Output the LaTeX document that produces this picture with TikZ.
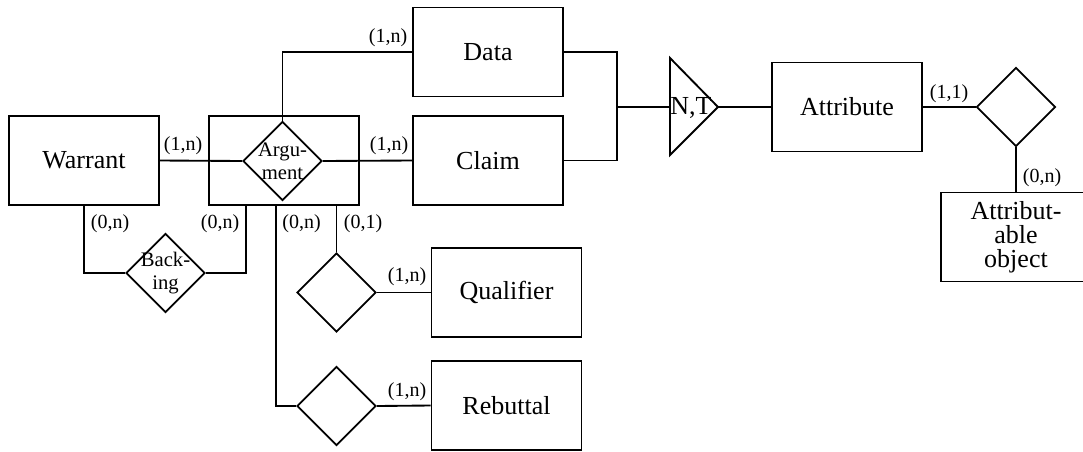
\documentclass[tikz,border=0pt]{standalone}
\usepackage{fontspec}
\setmainfont{Liberation Serif}
\usetikzlibrary{shapes.geometric}
\tikzset{
	entity/.style={draw, minimum width=112.5pt, minimum height=66.75pt, inner sep=0pt, align=center, font=\fontsize{19.5}{18}\selectfont},
	relation/.style={draw, diamond, aspect=1, minimum width=59.25pt, minimum height=59.25pt, inner sep=0pt},
	reltext/.style={inner sep=0pt, align=center, font=\fontsize{15.5}{17}\selectfont},
	card/.style={inner sep=0pt, font=\fontsize{15}{17}\selectfont},
}
\begin{document}
	\begin{tikzpicture}[x=0.75pt, y=-0.75pt, line width=1.4pt]
		\clip (0,0) rectangle (1083,451);
		% Entities
		\node[entity] (warrant) at (84,160.5) {Warrant};
		\node[entity] (argbox) at (284,160.5) {};
		\node[entity] (data) at (488,52) {Data};
		\node[entity] (claim) at (488,160.5) {Claim};
		\node[entity] (qualifier) at (506.5,292.5) {Qualifier};
		\node[entity] (rebuttal) at (506.5,405.5) {Rebuttal};
		\node[entity] (attribute) at (847,107) {Attribute};
		\node[entity] (attributable) at (1016,237) {Attribut-\\able\\object};
		% Relationships
		\node[relation, label={[reltext]center:Argu-\\ment}] (argument) at (282.5,161) {};
		\node[relation, label={[reltext]center:Back-\\ing}] (backing) at (165.5,273) {};
		\node[relation] (qualrel) at (336.5,292.5) {};
		\node[relation] (rebrel) at (336.5,406) {};
		\node[relation] (attrrel) at (1016,107) {};
		% Generalisation triangle
		\coordinate (T1) at (670,58);
		\coordinate (T2) at (670,155);
		\coordinate (T3) at (718,107);
		\coordinate (tin) at (670,107);
		\coordinate (join) at (617,107);
		\draw (T1) -- (T3) -- (T2) -- cycle;
		\node[inner sep=0pt, font=\fontsize{19.5}{20}\selectfont] (nt) at (691,107.5) {N,T};
		% Connectors
		\coordinate (bk) at (246,205);
		\coordinate (rb) at (276,205);
		\draw (warrant.east) -- (argument.west);
		\draw (argument.east) -- (claim.west);
		\draw (argument.north) |- (data.west);
		\draw (warrant.south) |- (backing.west);
		\draw (backing.east) -| (bk);
		\draw (rb) |- (rebrel.west);
		\draw (qualrel.north) -- (qualrel.north |- argbox.south);
		\draw (qualrel.east) -- (qualifier.west);
		\draw (rebrel.east) -- (rebuttal.west);
		\draw (data.east) -| (join) |- (claim.east);
		\draw (join) -- (tin);
		\draw (T3) -- (attribute.west);
		\draw (attribute.east) -- (attrrel.west);
		\draw (attrrel.south) -- (attributable.north);
		% Cardinalities
		\node[card] (c1) at (388,38) {(1,n)};
		\node[card] (c2) at (183,146) {(1,n)};
		\node[card] (c3) at (389,146) {(1,n)};
		\node[card] (c4) at (110,224) {(0,n)};
		\node[card] (c5) at (220,224) {(0,n)};
		\node[card] (c6) at (301.5,224) {(0,n)};
		\node[card] (c7) at (363,224) {(0,1)};
		\node[card] (c8) at (407,277) {(1,n)};
		\node[card] (c9) at (407,392) {(1,n)};
		\node[card] (c10) at (949,94) {(1,1)};
		\node[card] (c11) at (1042,178) {(0,n)};
	\end{tikzpicture}
\end{document}
